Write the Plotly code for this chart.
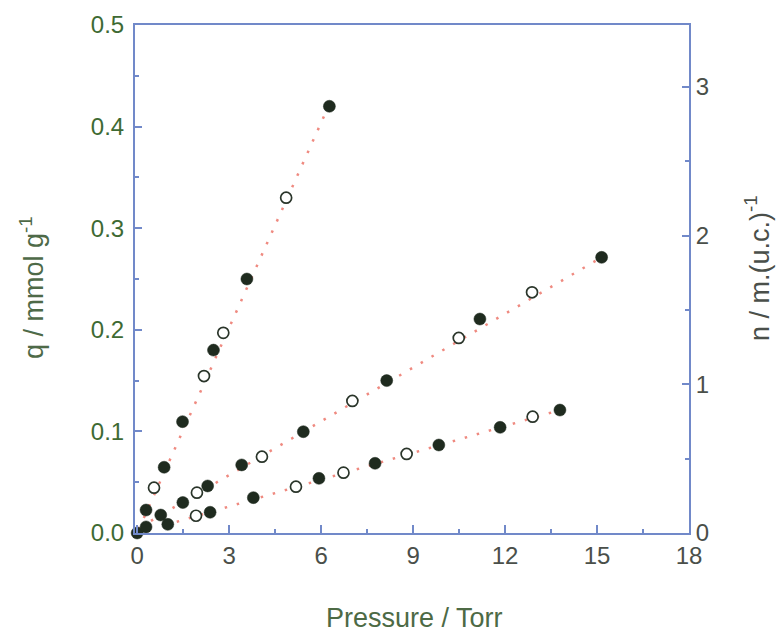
import plotly.graph_objects as go

# ---- data ----
s1_x = [0.0, 0.29, 0.55, 0.88, 1.48, 2.18, 2.49, 2.81, 3.58, 4.86, 6.27]
s1_y = [0.0, 0.0226, 0.0446, 0.0647, 0.1096, 0.1545, 0.180, 0.197, 0.250, 0.330, 0.420]
s1_open = [0, 0, 1, 0, 0, 1, 0, 1, 0, 1, 0]

s2_x = [0.77, 1.49, 1.95, 2.30, 3.41, 4.07, 5.42, 7.02, 8.14, 10.49, 11.18, 12.88, 15.15]
s2_y = [0.0177, 0.030, 0.0397, 0.0463, 0.067, 0.0751, 0.0997, 0.130, 0.150, 0.192, 0.2106, 0.2369, 0.2713]
s2_open = [0, 0, 1, 0, 0, 1, 0, 1, 0, 1, 0, 1, 0]

s3_x = [0.29, 1.00, 1.92, 2.38, 3.79, 5.18, 5.93, 6.73, 7.76, 8.79, 9.84, 11.84, 12.90, 13.79]
s3_y = [0.006, 0.0085, 0.017, 0.0204, 0.0348, 0.0456, 0.0538, 0.0594, 0.0686, 0.0778, 0.0866, 0.104, 0.1145, 0.121]
s3_open = [0, 0, 1, 0, 0, 1, 0, 1, 0, 1, 0, 0, 1, 0]

# fitted straight lines (end points)
fit1_x = [0.05, 6.27]
fit1_y = [0.0036, 0.422]
fit2_x = [0.45, 15.15]
fit2_y = [0.0120, 0.2713]
fit3_x = [0.90, 13.79]
fit3_y = [0.0076, 0.121]

x_ticks = [0, 3, 6, 9, 12, 15, 18]
y_ticks = [0.0, 0.1, 0.2, 0.3, 0.4, 0.5]
y2_ticks = [0, 1, 2, 3]

x_title = "Pressure / Torr"
y_title = "q / mmol g<sup>-1</sup>"
y2_title = "n / m.(u.c.)<sup>-1</sup>"

# ---- style ----
FRAME = "#7189c9"
FIT = "#ef8a80"
FILL = "#1f2b1f"
GREEN = "#3e6a33"
GREY = "#4a4f4a"
FONT = "Liberation Sans, Arial, sans-serif"
TICK_SIZE = 24
TITLE_SIZE = 27

fig = go.Figure()

for fx, fy in [(fit1_x, fit1_y), (fit2_x, fit2_y), (fit3_x, fit3_y)]:
    fig.add_trace(go.Scatter(x=fx, y=fy, mode="lines",
                             line=dict(color=FIT, width=2.5, dash="2.5px,10px"),
                             showlegend=False, hoverinfo="skip", cliponaxis=False))

for xs, ys, op in [(s1_x, s1_y, s1_open), (s2_x, s2_y, s2_open), (s3_x, s3_y, s3_open)]:
    fx = [x for x, o in zip(xs, op) if not o]
    fy = [y for y, o in zip(ys, op) if not o]
    ox = [x for x, o in zip(xs, op) if o]
    oy = [y for y, o in zip(ys, op) if o]
    fig.add_trace(go.Scatter(x=fx, y=fy, mode="markers", showlegend=False, cliponaxis=False,
                             marker=dict(size=12, color=FILL, line=dict(color=FILL, width=0.5))))
    fig.add_trace(go.Scatter(x=ox, y=oy, mode="markers", showlegend=False, cliponaxis=False,
                             marker=dict(size=11, color="white", line=dict(color="#2a352a", width=1.7))))

# invisible trace to activate the right axis
fig.add_trace(go.Scatter(x=[0], y=[0], yaxis="y2", mode="markers",
                         marker=dict(opacity=0), showlegend=False, hoverinfo="skip"))

fig.update_layout(
    width=779, height=632,
    margin=dict(l=135, r=90, t=25, b=99),
    paper_bgcolor="white", plot_bgcolor="white",
    font=dict(family=FONT, size=TICK_SIZE, color=GREY),
    xaxis=dict(
        range=[-0.07, 18], tickvals=x_ticks, ticktext=[str(v) for v in x_ticks],
        showline=True, linecolor=FRAME, linewidth=2, mirror=True,
        ticks="inside", ticklen=8, tickwidth=2, tickcolor=FRAME,
        minor=dict(dtick=1.5, ticks="inside", ticklen=4, tickwidth=2, tickcolor=FRAME),
        showgrid=False, zeroline=False,
        tickfont=dict(size=TICK_SIZE, color=GREY, family=FONT),
    ),
    yaxis=dict(
        range=[0, 0.5], tickvals=y_ticks, ticktext=["%.1f" % v for v in y_ticks],
        showline=True, linecolor=FRAME, linewidth=2, mirror=False,
        ticks="inside", ticklen=7, tickwidth=2, tickcolor=FRAME,
        minor=dict(dtick=0.05, ticks="inside", ticklen=4, tickwidth=2, tickcolor=FRAME),
        showgrid=False, zeroline=False, ticklabelstandoff=4,
        tickfont=dict(size=TICK_SIZE, color=GREEN, family=FONT),
    ),
    yaxis2=dict(
        overlaying="y", side="right", range=[0, 3.416], tickvals=y2_ticks,
        ticktext=[str(v) for v in y2_ticks],
        showline=True, linecolor=FRAME, linewidth=2,
        ticks="inside", ticklen=7, tickwidth=2, tickcolor=FRAME,
        minor=dict(dtick=0.5, ticks="inside", ticklen=4, tickwidth=2, tickcolor=FRAME),
        showgrid=False, zeroline=False,
        tickfont=dict(size=TICK_SIZE, color=GREY, family=FONT),
    ),
    annotations=[
        dict(text=x_title, xref="paper", yref="paper", x=0.505, y=-0.167,
             xanchor="center", yanchor="middle", showarrow=False,
             font=dict(size=TITLE_SIZE, color="#4d6a45", family=FONT)),
        dict(text=y_title, xref="paper", yref="paper", x=-0.186, y=0.484, textangle=-90,
             xanchor="center", yanchor="middle", showarrow=False,
             font=dict(size=TITLE_SIZE, color="#4e6a48", family=FONT)),
        dict(text=y2_title, xref="paper", yref="paper", x=1.123, y=0.522, textangle=-90,
             xanchor="center", yanchor="middle", showarrow=False,
             font=dict(size=TITLE_SIZE, color=GREY, family=FONT)),
    ],
)

fig.write_html("out.html")
